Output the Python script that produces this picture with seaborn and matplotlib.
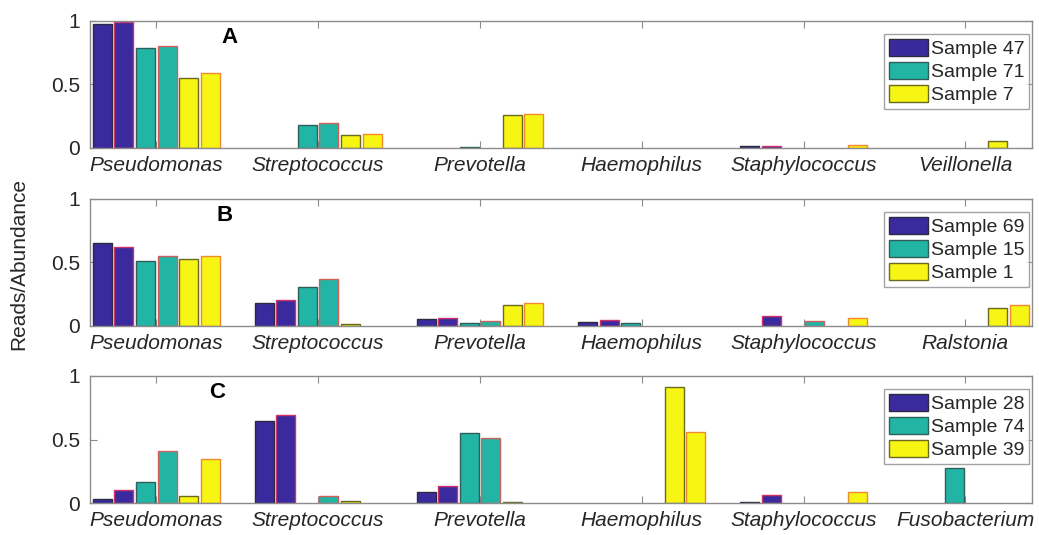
import matplotlib
matplotlib.use("Agg")
import matplotlib.pyplot as plt
import seaborn as sns
import pandas as pd
import numpy as np
from matplotlib.patches import Patch

# ---------------- data ----------------
genera_A = ["Pseudomonas", "Streptococcus", "Prevotella", "Haemophilus", "Staphylococcus", "Veillonella"]
genera_B = ["Pseudomonas", "Streptococcus", "Prevotella", "Haemophilus", "Staphylococcus", "Ralstonia"]
genera_C = ["Pseudomonas", "Streptococcus", "Prevotella", "Haemophilus", "Staphylococcus", "Fusobacterium"]

samples_A = ["Sample 47", "Sample 71", "Sample 7"]
samples_B = ["Sample 69", "Sample 15", "Sample 1"]
samples_C = ["Sample 28", "Sample 74", "Sample 39"]

# each sample: reads fraction, abundance fraction (per genus)
A_s1_reads = [0.98, 0.00, 0.000, 0.0, 0.016, 0.0]
A_s1_abund = [0.99, 0.00, 0.000, 0.0, 0.014, 0.0]
A_s2_reads = [0.785, 0.179, 0.004, 0.0, 0.0, 0.0]
A_s2_abund = [0.80, 0.20, 0.000, 0.0, 0.0, 0.0]
A_s3_reads = [0.554, 0.100, 0.257, 0.0, 0.0, 0.055]
A_s3_abund = [0.593, 0.113, 0.270, 0.0, 0.027, 0.0]

B_s1_reads = [0.655, 0.184, 0.055, 0.032, 0.0, 0.0]
B_s1_abund = [0.624, 0.203, 0.066, 0.045, 0.079, 0.0]
B_s2_reads = [0.51, 0.303, 0.024, 0.024, 0.0, 0.0]
B_s2_abund = [0.55, 0.366, 0.042, 0.0, 0.042, 0.0]
B_s3_reads = [0.529, 0.018, 0.163, 0.0, 0.0, 0.139]
B_s3_abund = [0.55, 0.0, 0.18, 0.0, 0.066, 0.163]

C_s1_reads = [0.031, 0.649, 0.086, 0.0, 0.008, 0.0]
C_s1_abund = [0.105, 0.694, 0.13, 0.0, 0.06, 0.0]
C_s2_reads = [0.168, 0.0, 0.55, 0.0, 0.0, 0.272]
C_s2_abund = [0.408, 0.058, 0.51, 0.0, 0.0, 0.0]
C_s3_reads = [0.058, 0.013, 0.005, 0.911, 0.0, 0.0]
C_s3_abund = [0.346, 0.0, 0.0, 0.56, 0.086, 0.0]

panels = [
    ("A", genera_A, samples_A, [A_s1_reads, A_s1_abund, A_s2_reads, A_s2_abund, A_s3_reads, A_s3_abund]),
    ("B", genera_B, samples_B, [B_s1_reads, B_s1_abund, B_s2_reads, B_s2_abund, B_s3_reads, B_s3_abund]),
    ("C", genera_C, samples_C, [C_s1_reads, C_s1_abund, C_s2_reads, C_s2_abund, C_s3_reads, C_s3_abund]),
]
yticks = [0, 0.5, 1]
ytick_labels = ["0", "0.5", "1"]

# ---------------- style ----------------
sns.set_theme(style="white")
plt.rcParams["font.family"] = ["Liberation Sans", "DejaVu Sans"]

face = ["#3a2a9e", "#3a2a9e", "#22b5a6", "#22b5a6", "#f7f514", "#f7f514"]
edge = ["#2a2a40", "#d0306a", "#2f5f5a", "#d0605a", "#6a6a20", "#f08a30"]
spine_col = "#8c8c8c"
text_col = "#262626"

fig = plt.figure(figsize=(10.39, 5.35), dpi=100)
left, width = 0.0866, 0.9064
bottoms = [0.7234, 0.3907, 0.0598]
h = 0.2374
label_pos = [(0.148, 0.87), (0.143, 0.87), (0.135, 0.87)]

for k, (tag, genera, samples, series) in enumerate(panels):
    ax = fig.add_axes([left, bottoms[k], width, h])
    rows = []
    for j, vals in enumerate(series):
        for g, v in zip(genera, vals):
            rows.append({"genus": g, "series": f"s{j}", "value": v})
    df = pd.DataFrame(rows)
    sns.barplot(data=df, x="genus", y="value", hue="series", order=genera,
                hue_order=[f"s{j}" for j in range(6)], palette=face,
                width=0.8, gap=0.12, dodge=True, legend=False, ax=ax,
                errorbar=None, saturation=1)
    for j, cont in enumerate(ax.containers):
        for p in cont.patches:
            p.set_edgecolor(edge[j])
            p.set_linewidth(1.0)
            if p.get_height() == 0:
                p.set_visible(False)
    ax.set_xlim(-0.41, 5.41)
    ax.set_ylim(0, 1)
    ax.set_yticks(yticks)
    ax.set_yticklabels(ytick_labels)
    ax.set_xlabel("")
    ax.set_ylabel("")
    ax.tick_params(axis="both", direction="in", length=5, width=0.8, color=spine_col,
                   top=True, right=True, bottom=True, left=True, labelsize=15,
                   labelcolor=text_col)
    ax.tick_params(axis="x", pad=6)
    ax.tick_params(axis="y", pad=7)
    for lab in ax.get_xticklabels():
        lab.set_fontstyle("italic")
    for s in ax.spines.values():
        s.set_color(spine_col)
        s.set_linewidth(1.0)
    ax.text(label_pos[k][0], label_pos[k][1], tag, transform=ax.transAxes,
            fontsize=16, fontweight="bold", color="black", ha="center", va="center")
    handles = [Patch(facecolor=face[0], edgecolor="#2a2a40", label=samples[0]),
               Patch(facecolor=face[2], edgecolor="#2f5f5a", label=samples[1]),
               Patch(facecolor=face[4], edgecolor="#6a6a20", label=samples[2])]
    leg = ax.legend(handles=handles, loc="upper right", bbox_to_anchor=(0.9975, 0.9),
                    fontsize=14, frameon=True, fancybox=False, handlelength=2.0,
                    handleheight=1.0, handletextpad=0.15, labelspacing=0.2,
                    borderpad=0.25, borderaxespad=0.0)
    leg.get_frame().set_edgecolor(spine_col)
    leg.get_frame().set_linewidth(1.0)
    for t in leg.get_texts():
        t.set_color(text_col)

fig.text(0.018, 0.507, "Reads/Abundance", rotation=90, fontsize=15, color=text_col,
         ha="center", va="center")

fig.savefig("out.png", dpi=100)
